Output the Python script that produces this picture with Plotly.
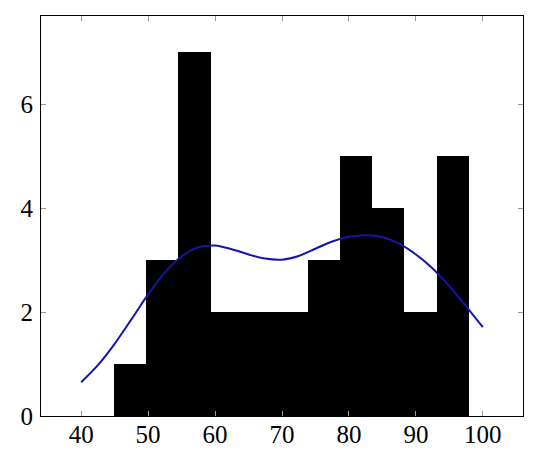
import plotly.graph_objects as go

# Histogram data (bin edges from ~44.85 to ~97.95, 11 equal bins)
bin_start = 44.85
bin_end = 97.95
counts = [1, 3, 7, 2, 2, 2, 3, 5, 4, 2, 5]

# Density-style smooth curve
curve_x = [40, 42.5, 45, 47.5, 50, 52.5, 55, 57.5, 60, 62.5, 65, 67.5, 70,
           72.5, 75, 77.5, 80, 82.5, 85, 87.5, 90, 92.5, 95, 97.5, 100]
curve_y = [0.65, 0.98, 1.39, 1.86, 2.34, 2.76, 3.07, 3.25, 3.28, 3.21, 3.11,
           3.03, 3.01, 3.08, 3.22, 3.36, 3.45, 3.48, 3.44, 3.32, 3.11, 2.84,
           2.50, 2.11, 1.71]

x_ticks = [40, 50, 60, 70, 80, 90, 100]
y_ticks = [0, 2, 4, 6]

n = len(counts)
w = (bin_end - bin_start) / n
centers = [bin_start + w * (i + 0.5) for i in range(n)]

fig = go.Figure()
fig.add_trace(go.Bar(x=centers, y=counts, width=[w] * n,
                     marker=dict(color="black", line=dict(width=0)),
                     showlegend=False))
fig.add_trace(go.Scatter(x=curve_x, y=curve_y, mode="lines",
                         line=dict(color="#1515a8", width=2, shape="spline", smoothing=0.8),
                         showlegend=False))

font = dict(family="Liberation Serif, DejaVu Serif, serif", size=25, color="black")
fig.update_layout(
    width=540, height=463,
    margin=dict(l=33, r=25, t=8, b=55, autoexpand=False),
    paper_bgcolor="white", plot_bgcolor="white",
    font=font, bargap=0,
)
fig.update_xaxes(range=[34, 106], tickvals=x_ticks, ticktext=[str(v) for v in x_ticks],
                 showgrid=False, zeroline=False, showline=True, linecolor="black",
                 linewidth=1, mirror="ticks", ticks="inside", ticklen=5,
                 tickcolor="#999999", tickwidth=1, tickfont=font,
                 automargin=False, ticklabelstandoff=-4)
fig.update_yaxes(range=[0, 7.7], tickvals=y_ticks, ticktext=[str(v) for v in y_ticks],
                 showgrid=False, zeroline=False, showline=True, linecolor="black",
                 linewidth=1, mirror="ticks", ticks="inside", ticklen=5,
                 tickcolor="#999999", tickwidth=1, tickfont=font,
                 automargin=False, ticklabelstandoff=2)

fig.write_html("out.html")
